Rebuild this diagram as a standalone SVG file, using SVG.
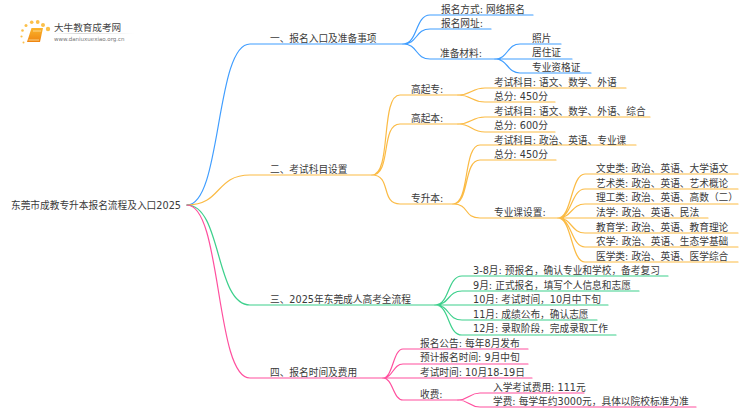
<svg xmlns="http://www.w3.org/2000/svg" width="750" height="410" viewBox="0 0 750 410">
<style>
text{font-family:"DejaVu Sans","Noto Sans CJK SC",sans-serif;font-size:9.7px;fill:#3a3a3a}
path{fill:none;stroke-width:1.2;stroke-linecap:round}
.b path{stroke:#3f9dff}.o path{stroke:#fbbb45}.g path{stroke:#3dd08c}.p path{stroke:#ff4f9e}
</style>
<defs><linearGradient id="ln"><stop offset="0" stop-color="#ccc" stop-opacity="0"/><stop offset=".3" stop-color="#ccc"/><stop offset="1" stop-color="#ccc" stop-opacity="0"/></linearGradient>
<linearGradient id="bk" x1="0" y1="0" x2="0" y2="1"><stop offset="0" stop-color="#fbb52c"/><stop offset="1" stop-color="#ef8410"/></linearGradient></defs>
<g id="logo">
<g fill="#fbc04a"><circle cx="48" cy="29" r="2.200"/><circle cx="43" cy="25" r="2"/><circle cx="37.700" cy="22" r="1.900"/><circle cx="31.700" cy="22.300" r="1.800"/><circle cx="26" cy="25.500" r="1.500"/><circle cx="22.500" cy="30.500" r="1.300"/><circle cx="21.500" cy="36.500" r="1.100"/><circle cx="23.500" cy="42.500" r="1"/></g>
<polygon points="31.500,28 43,28 40,42 27,42" fill="url(#bk)"/>
<polyline points="33,31 41,31" fill="none" stroke="#fde3a8" stroke-width=".8"/>
<polyline points="28.500,40 39,40" fill="none" stroke="#fde3a8" stroke-width=".8"/>
<rect x="54" y="33" width="80" height=".8" fill="url(#ln)"/>
<text x="54" y="31" style="font-size:9.600px;fill:#444">大牛教育成考网</text>
<text x="54" y="41" style="font-size:5.500px;fill:#777">www.daniuxuexiao.org.cn</text>
</g>
<g id="connectors">
<g class="b">
<path d="M187 205C222 205 215 44 250 44H403"/>
<path d="M403 44C418 44 415 15 430 15H533M403 44C418 44 415 29 430 29H491M403 44C418 44 415 59 430 59H495"/>
<path d="M495 59C508 59 507 44 520 44H561M495 59H572M495 59C508 59 507 73 520 73H591"/>
</g>
<g class="o">
<path d="M187 205C222 205 215 175 250 175H372"/>
<path d="M372 175C392 175 380 95 400 95H458M372 175C392 175 380 124 400 124H458M372 175C392 175 380 204 400 204H453"/>
<path d="M458 95C472 95 471 88 485 88H626M458 95C472 95 471 102 485 102H555M458 124C472 124 471 117 485 117H650M458 124C472 124 471 132 485 132H555"/>
<path d="M453 204C470 204 463 145 480 145H636M453 204C470 204 463 160 480 160H556M453 204C470 204 463 218 480 218H558"/>
<path d="M558 218C572 218 571 174 585 174H738M558 218C572 218 571 189 585 189H738M558 218C572 218 571 204 585 204H738M558 218H708M558 218C572 218 571 233 585 233H738M558 218C572 218 571 247 585 247H738M558 218C572 218 571 262 585 262H738"/>
</g>
<g class="g">
<path d="M187 205C222 205 215 305 250 305H435"/>
<path d="M435 305C450 305 447 276 462 276H668M435 305C450 305 447 291 462 291H639M435 305H608M435 305C450 305 447 320 462 320H597M435 305C450 305 447 335 462 335H616"/>
</g>
<g class="p">
<path d="M187 205C222 205 215 378 250 378H383"/>
<path d="M383 378C393 378 393 349 403 349H528M383 378C393 378 393 364 403 364H528M383 378H532M383 378C393 378 393 400 403 400H458"/>
<path d="M458 400C469 400 469 393 480 393H584M458 400C469 400 469 407 480 407H696"/>
</g>
</g>
<g id="root"><text x="11" y="209">东莞市成教专升本报名流程及入口2025</text></g>
<g id="n1"><text x="270" y="42">一、报名入口及准备事项</text></g>
<g id="n1a"><text x="441" y="13">报名方式: 网络报名</text></g>
<g id="n1b"><text x="441" y="27">报名网址:</text></g>
<g id="n1c"><text x="440" y="57">准备材料:</text></g>
<g id="n1c1"><text x="532" y="42">照片</text></g>
<g id="n1c2"><text x="532" y="56">居住证</text></g>
<g id="n1c3"><text x="532" y="71">专业资格证</text></g>
<g id="n2"><text x="270" y="173">二、考试科目设置</text></g>
<g id="n2a"><text x="411" y="93">高起专:</text></g>
<g id="n2a1"><text x="494" y="86">考试科目: 语文、数学、外语</text></g>
<g id="n2a2"><text x="494" y="100">总分: 450分</text></g>
<g id="n2b"><text x="411" y="122">高起本:</text></g>
<g id="n2b1"><text x="494" y="115">考试科目: 语文、数学、外语、综合</text></g>
<g id="n2b2"><text x="494" y="129">总分: 600分</text></g>
<g id="n2c"><text x="411" y="202">专升本:</text></g>
<g id="n2c1"><text x="494" y="144">考试科目: 政治、英语、专业课</text></g>
<g id="n2c2"><text x="494" y="158">总分: 450分</text></g>
<g id="n2c3"><text x="494" y="216">专业课设置:</text></g>
<g id="n2d1"><text x="596" y="172">文史类: 政治、英语、大学语文</text></g>
<g id="n2d2"><text x="596" y="187">艺术类: 政治、英语、艺术概论</text></g>
<g id="n2d3"><text x="596" y="201">理工类: 政治、英语、高数（二）</text></g>
<g id="n2d4"><text x="596" y="216">法学: 政治、英语、民法</text></g>
<g id="n2d5"><text x="596" y="231">教育学: 政治、英语、教育理论</text></g>
<g id="n2d6"><text x="596" y="245">农学: 政治、英语、生态学基础</text></g>
<g id="n2d7"><text x="596" y="260">医学类: 政治、英语、医学综合</text></g>
<g id="n3"><text x="270" y="303">三、2025年东莞成人高考全流程</text></g>
<g id="n3a"><text x="473" y="274">3-8月: 预报名，确认专业和学校，备考复习</text></g>
<g id="n3b"><text x="473" y="289">9月: 正式报名，填写个人信息和志愿</text></g>
<g id="n3c"><text x="473" y="303">10月: 考试时间，10月中下旬</text></g>
<g id="n3d"><text x="473" y="318">11月: 成绩公布，确认志愿</text></g>
<g id="n3e"><text x="473" y="332">12月: 录取阶段，完成录取工作</text></g>
<g id="n4"><text x="270" y="376">四、报名时间及费用</text></g>
<g id="n4a"><text x="420" y="347">报名公告: 每年8月发布</text></g>
<g id="n4b"><text x="420" y="361">预计报名时间: 9月中旬</text></g>
<g id="n4c"><text x="420" y="376">考试时间: 10月18-19日</text></g>
<g id="n4d"><text x="420" y="398">收费:</text></g>
<g id="n4d1"><text x="493" y="391">入学考试费用: 111元</text></g>
<g id="n4d2"><text x="493" y="405">学费: 每学年约3000元，具体以院校标准为准</text></g>
</svg>
